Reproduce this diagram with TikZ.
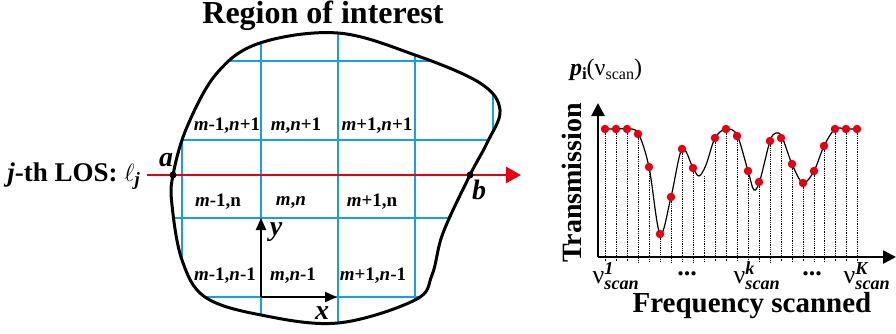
\documentclass[tikz,border=0pt]{standalone}
\usepackage{amsmath}
\usepackage{fontspec}
\setmainfont{Liberation Serif}
\usepackage{xcolor}
\usetikzlibrary{arrows.meta, positioning}

\definecolor{gridblue}{RGB}{20,160,225}
\definecolor{losred}{RGB}{230,0,18}

\begin{document}
\begin{tikzpicture}[x=1pt, y=-1pt,
    big/.style={font=\fontsize{28}{30}\selectfont\bfseries},
    cell/.style={font=\fontsize{19}{21}\selectfont\bfseries},
    ptlabel/.style={font=\fontsize{28}{30}\selectfont\bfseries\itshape},
    gridline/.style={gridblue, line width=2.8pt},
    blobline/.style={black, line width=3pt},
    axis/.style={black, line width=2pt, -{Triangle[length=12pt,width=10pt]}},
    plotaxis/.style={black, line width=2.6pt, -{Triangle[length=13pt,width=13pt]}},
    sample/.style={circle, fill=losred, inner sep=0pt, minimum size=8.5pt},
    endpt/.style={circle, fill=black, inner sep=0pt, minimum size=7pt},
    drop/.style={densely dotted, line width=0.8pt},
    tick/.style={font=\fontsize{26}{28}\selectfont, inner sep=0pt}]
    \useasboundingbox (0,0) rectangle (896,333);

    % Grid inside the region
    \begin{scope}
        \clip plot[smooth cycle, tension=0.6] coordinates {(217,73) (260,43) (338,33) (415,55) (480,83) (500,110) (487,143) (470,175) (443,233) (432,275) (415,300) (338,323) (261,315) (205,297) (182,260) (172,205) (173,175) (187,127)};
        \foreach \gx in {182,261,338,415,493}
            \draw[gridline] (\gx,20) -- (\gx,340);
        \foreach \gy in {61,140,218,297}
            \draw[gridline] (150,\gy) -- (520,\gy);
    \end{scope}

    % Region outline
    \draw[blobline] plot[smooth cycle, tension=0.6] coordinates {(217,73) (260,43) (338,33) (415,55) (480,83) (500,110) (487,143) (470,175) (443,233) (432,275) (415,300) (338,323) (261,315) (205,297) (182,260) (172,205) (173,175) (187,127)};
    \node[big, font=\fontsize{32}{34}\selectfont\bfseries] (roi) at (323,16) {Region of interest};

    % Line of sight
    \coordinate (losin) at (147,175);
    \coordinate (losout) at (521,175);
    \draw[losred, line width=2.6pt, -{Triangle[length=15pt,width=16pt]}] (losin) -- (losout);
    \node[endpt] (a) at (173,175) {};
    \node[endpt] (b) at (470,175) {};
    \node[ptlabel] (alab) at (166,160) {a};
    \node[ptlabel] (blab) at (479,190) {b};
    \node[big, font=\fontsize{27}{29}\selectfont\bfseries, anchor=east] (los) at (144,176) {\textit{j}-th LOS: $\ell_{\textit{j}}$};

    % Cell labels
    \node[cell] (c11) at (227,126) {\textit{m}-1,\textit{n}+1};
    \node[cell] (c21) at (296,126) {\textit{m},\textit{n}+1};
    \node[cell] (c31) at (377,126) {\textit{m}+1,\textit{n}+1};
    \node[cell] (c12) at (218,202) {\textit{m}-1,n};
    \node[cell] (c22) at (291,202) {\textit{m},\textit{n}};
    \node[cell] (c32) at (372,202) {\textit{m}+1,n};
    \node[cell] (c13) at (225,276) {\textit{m}-1,\textit{n}-1};
    \node[cell] (c23) at (293,276) {\textit{m},\textit{n}-1};
    \node[cell] (c33) at (373,276) {\textit{m}+1,\textit{n}-1};

    % Local axes
    \coordinate (o) at (261,297);
    \coordinate (xtip) at (337,297);
    \coordinate (ytip) at (261,218);
    \draw[axis] (o) -- (xtip);
    \draw[axis] (o) -- (ytip);
    \node[ptlabel] (xlab) at (322,313) {x};
    \node[ptlabel] (ylab) at (276,232) {y};

    % Transmission spectrum
    \foreach \x/\y [count=\i] in {605/129, 616/129, 627/129, 638/134, 649/167, 660/234, 671/197, 682/149, 693/168, 704/176, 715/138, 726/129, 737/136, 748/171, 759/182, 770/141, 781/138, 792/164, 803/183, 814/171, 824/146, 835/129, 846/129, 857/129} {
        \coordinate (s\i) at (\x,\y);
        \coordinate (t\i) at (\x,262);
        \draw[drop] (s\i) -- (t\i);
    }
    \draw[line width=1.2pt] plot[smooth, tension=0.55] coordinates {(605,129) (616,129) (627,129) (638,133) (649,167) (660,234) (671,197) (682,149) (693,168) (699,176) (706,165) (715,138) (726,129) (737,135) (748,171) (754,190) (760,180) (770,141) (776,133) (782,137) (792,164) (803,183) (814,171) (824,146) (835,129) (846,129) (857,129)};
    \foreach \i in {1,...,9,11,12,...,24}
        \node[sample] (d\i) at (s\i) {};

    \coordinate (po) at (598,257);
    \coordinate (pxtip) at (896,257);
    \coordinate (pytip) at (598,103);
    \draw[plotaxis] (po) -- (pxtip);
    \draw[plotaxis] (po) -- (pytip);

    \node[font=\fontsize{24}{26}\selectfont] (ptitle) at (606,70) {\textbf{\textit{p}}\raisebox{-4pt}{\fontsize{17}{17}\selectfont\bfseries i}(ν\raisebox{-4pt}{\fontsize{16}{16}\selectfont scan})};
    \node[big, rotate=90, inner sep=0pt] (ylabel) at (572,183) {Transmission};
    \node[big, font=\fontsize{29}{31}\selectfont\bfseries, inner sep=0pt] (xlabel) at (752,306) {Frequency scanned};

    \node[tick] (nu1) at (616,276) {$\text{ν}^{\text{\bfseries\itshape 1}}_{\text{\bfseries\itshape scan}}$};
    \node[tick] (dots1) at (687,274) {\textbf{...}};
    \node[tick] (nuk) at (757,276) {$\text{ν}^{\text{\bfseries\itshape k}}_{\text{\bfseries\itshape scan}}$};
    \node[tick] (dots2) at (812,274) {\textbf{...}};
    \node[tick] (nuK) at (867,276) {$\text{ν}^{\text{\bfseries\itshape K}}_{\text{\bfseries\itshape scan}}$};
\end{tikzpicture}
\end{document}
